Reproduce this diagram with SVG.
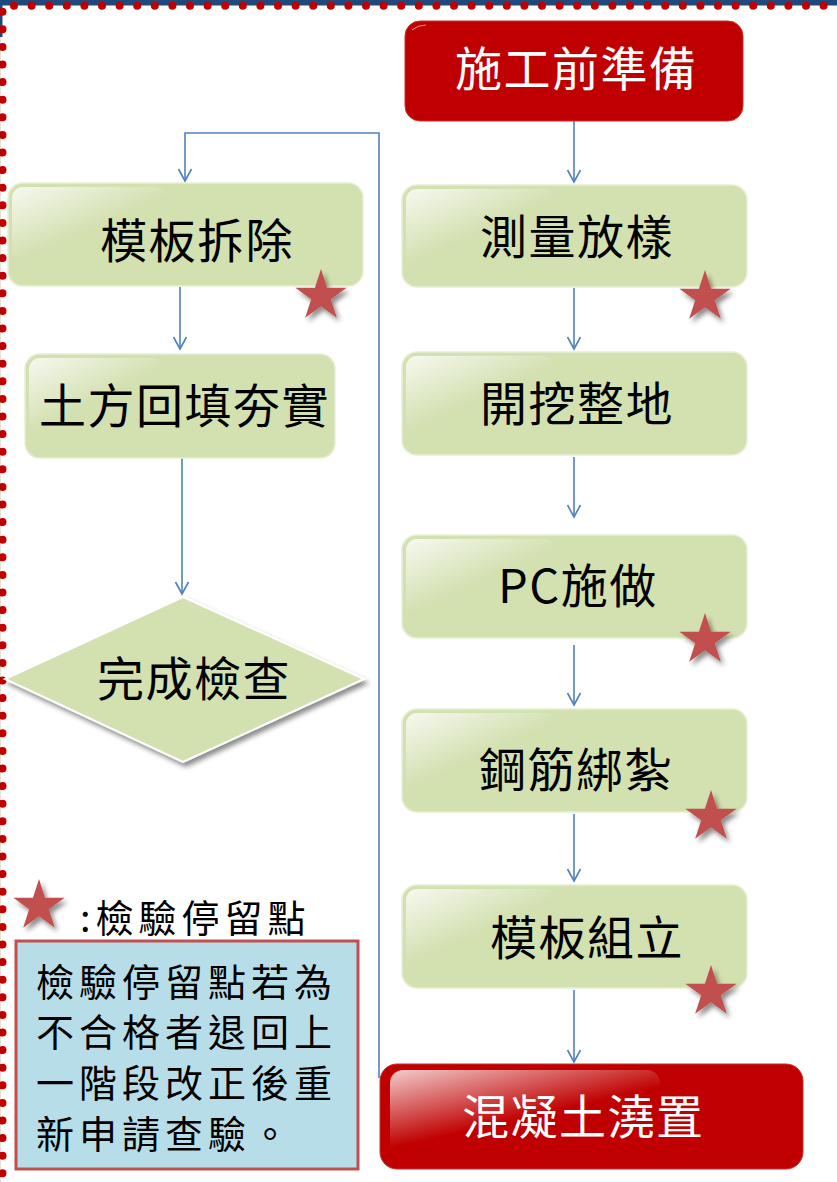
<svg xmlns="http://www.w3.org/2000/svg" width="837" height="1182" viewBox="0 0 837 1182">
<style>
.t{font-family:"Noto Sans CJK TC","Noto Sans CJK SC",sans-serif;font-size:47px;letter-spacing:1.5px}
.dark{fill:#000}
.light{fill:#fff}
.green{fill:#D3E0B0;stroke:#E6EED6;stroke-width:1.5}
.red{fill:#C00000;stroke:#C93030;stroke-width:1}
.gloss{fill:url(#gl)}
.conn{fill:none;stroke:#4F81BD;stroke-width:1.6}
.star{fill:#C0504D;filter:url(#sh)}
.leg{font-family:"Noto Sans CJK TC","Noto Sans CJK SC",sans-serif;font-size:38px;letter-spacing:5px;fill:#000}
</style>
<defs>
<linearGradient id="gl" x1="0" y1="0" x2="0.8" y2="1">
<stop offset="0" stop-color="#fff" stop-opacity="0.8"/>
<stop offset="0.55" stop-color="#fff" stop-opacity="0"/>
</linearGradient>
<linearGradient id="glr" x1="0" y1="0" x2="0.7" y2="1">
<stop offset="0" stop-color="#fff" stop-opacity="0.8"/>
<stop offset="0.6" stop-color="#fff" stop-opacity="0"/>
</linearGradient>
<filter id="sh" x="-30%" y="-30%" width="170%" height="170%">
<feDropShadow dx="3" dy="4" stdDeviation="2.5" flood-color="#000" flood-opacity="0.45"/>
</filter>
<path id="star" d="M0,-27 L6.06,-8.34 L25.68,-8.34 L9.81,3.19 L15.87,21.84 L0,10.31 L-15.87,21.84 L-9.81,3.19 L-25.68,-8.34 L-6.06,-8.34 Z"/>
<marker id="ah" markerUnits="userSpaceOnUse" markerWidth="16" markerHeight="16" viewBox="0 0 16 16" refX="14" refY="8" orient="auto">
<path d="M2,1.5 L14,8 L2,14.5" fill="none" stroke="#4F81BD" stroke-width="1.6"/>
</marker>
</defs>

<g id="frame">
<rect x="0" y="0" width="837" height="5.5" fill="#1F497D"/>
<rect x="0" y="0" width="2.5" height="37" fill="#1F497D"/>
<line x1="0.5" y1="37" x2="0.5" y2="1182" stroke="#E6E2D6" stroke-width="1"/>
<line x1="14" y1="5.7" x2="840" y2="5.7" stroke="#C00000" stroke-width="8" stroke-linecap="round" stroke-dasharray="0 17.6"/>
<line x1="2.5" y1="11.7" x2="2.5" y2="1182" stroke="#C00000" stroke-width="8" stroke-linecap="round" stroke-dasharray="0 17.6"/>
</g>

<g id="connectors">
<line class="conn" x1="574" y1="121" x2="574" y2="182" marker-end="url(#ah)"/>
<line class="conn" x1="574" y1="288" x2="574" y2="349" marker-end="url(#ah)"/>
<line class="conn" x1="574" y1="457" x2="574" y2="517" marker-end="url(#ah)"/>
<line class="conn" x1="574" y1="645" x2="574" y2="705" marker-end="url(#ah)"/>
<line class="conn" x1="574" y1="814" x2="574" y2="881" marker-end="url(#ah)"/>
<line class="conn" x1="574" y1="990" x2="574" y2="1062" marker-end="url(#ah)"/>
<polyline class="conn" points="379,1078 379,133 185,133 185,181" marker-end="url(#ah)"/>
<line class="conn" x1="180" y1="287" x2="180" y2="349" marker-end="url(#ah)"/>
<line class="conn" x1="182" y1="458" x2="182" y2="594" marker-end="url(#ah)"/>
</g>

<g id="n-prep">
<rect class="red" x="405" y="21" width="338" height="100" rx="15"/>
<path d="M412,30 Q418,25 426,25" fill="none" stroke="#fff" stroke-opacity="0.6" stroke-width="1"/>
<text class="t light" x="455" y="86">施工前準備</text>
</g>

<g id="n-survey">
<rect class="green" x="402" y="185" width="345" height="102" rx="15"/>
<rect class="gloss" x="406" y="189" width="150" height="85" rx="11"/>
<text class="t dark" x="480" y="254">測量放樣</text>
</g>

<g id="n-excavate">
<rect class="green" x="402" y="352" width="345" height="103" rx="15"/>
<rect class="gloss" x="406" y="356" width="150" height="85" rx="11"/>
<text class="t dark" x="480" y="421">開挖整地</text>
</g>

<g id="n-pc">
<rect class="green" x="402" y="535" width="345" height="103" rx="15"/>
<rect class="gloss" x="406" y="539" width="150" height="85" rx="11"/>
<text class="t dark" x="498" y="603" letter-spacing="0.5">PC施做</text>
</g>

<g id="n-rebar">
<rect class="green" x="402" y="709" width="345" height="103" rx="15"/>
<rect class="gloss" x="406" y="713" width="150" height="85" rx="11"/>
<text class="t dark" x="479" y="787">鋼筋綁紮</text>
</g>

<g id="n-formwork">
<rect class="green" x="402" y="885" width="345" height="103" rx="15"/>
<rect class="gloss" x="406" y="889" width="150" height="85" rx="11"/>
<text class="t dark" x="490" y="955">模板組立</text>
</g>

<g id="n-concrete">
<rect class="red" x="380" y="1064" width="423" height="105" rx="17"/>
<rect x="390" y="1070" width="270" height="88" rx="13" fill="url(#glr)"/>
<text class="t light" x="462" y="1134">混凝土澆置</text>
</g>

<g id="n-strip">
<rect class="green" x="8" y="183" width="355" height="103" rx="15"/>
<rect class="gloss" x="12" y="187" width="155" height="85" rx="11"/>
<text class="t dark" x="100" y="258">模板拆除</text>
</g>

<g id="n-backfill">
<rect class="green" x="25" y="354" width="310" height="104" rx="15"/>
<rect class="gloss" x="29" y="358" width="135" height="85" rx="11"/>
<text class="t dark" x="39" y="423">土方回填夯實</text>
</g>

<g id="n-check">
<polygon points="183,597 364,679 183,762 5,679" fill="#D3E0B0" stroke="#fff" stroke-width="2" filter="url(#sh)"/>
<text class="t dark" x="97" y="696">完成檢查</text>
</g>

<g id="stars">
<use href="#star" class="star" x="321" y="296"/>
<use href="#star" class="star" x="705" y="297"/>
<use href="#star" class="star" x="705" y="640"/>
<use href="#star" class="star" x="711" y="817"/>
<use href="#star" class="star" x="711" y="992"/>
</g>

<g id="legend">
<use href="#star" class="star" x="39" y="906"/>
<text class="leg" x="80" y="932" font-size="36" letter-spacing="4.5">:檢驗停留點</text>
<rect x="16" y="941" width="342" height="228" fill="#B7DDE8" stroke="#C0504D" stroke-width="3"/>
<text class="leg" x="36" y="996">檢驗停留點若為</text>
<text class="leg" x="36" y="1046">不合格者退回上</text>
<text class="leg" x="36" y="1097">一階段改正後重</text>
<text class="leg" x="36" y="1148">新申請查驗。</text>
</g>
</svg>
